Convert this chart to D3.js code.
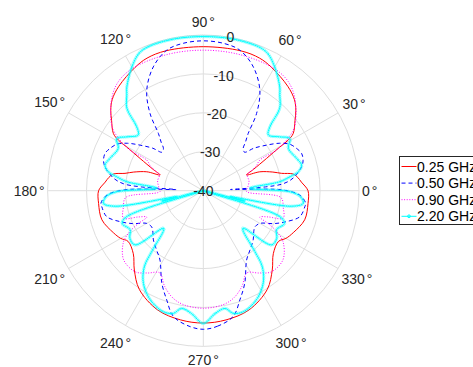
<!DOCTYPE html>
<html>
<head>
<meta charset="utf-8">
<script src="https://cdn.jsdelivr.net/npm/d3@7/dist/d3.min.js"></script>
<style>
  body { margin: 0; background: #fff; }
  svg { font-family: "Liberation Sans", Arial, Helvetica, sans-serif; }
</style>
</head>
<body>
<div id="chart"></div>
<script>
// Ticks
const angleTicks = [0, 30, 60, 90, 120, 150, 180, 210, 240, 270, 300, 330];
const rTicks = [-40, -30, -20, -10, 0];
const seriesNames = ["0.25 GHz", "0.50 GHz", "0.90 GHz", "2.20 GHz"];

// Patterns are symmetric about the 90°/270° axis, so the right half (-90..90 deg) is given
// and mirrored for the left half.
const redAngles = [-90, -80, -69, -57, -49, -42, -34, -30, -25, -16, -7, 0, 5, 8, 10.5, 12.5, 15, 18.5, 20, 23, 27, 29.7, 30.8, 32.5, 37.5, 41, 45, 51, 61, 67, 75, 90];
const redDb = [-6.0, -6.3, -7.2, -9.8, -13.0, -15.8, -16.7, -15.5, -14.5, -12.9, -12.9, -13.1, -14.7, -15.5, -16.5, -19.4, -21.5, -24.7, -28.2, -26, -21.8, -17.4, -14.6, -12.6, -10.3, -8.5, -6.9, -5.5, -3.8, -3.0, -2.8, -3.0];

const blueAngles = [-90, -84, -76.6, -71.5, -65.8, -58, -51.8, -44.6, -38, -34.9, -30, -25, -20.4, -15, -9, -7, -2.6, 0.5, 1.5, 2.5, 3.5, 5, 8, 13.7, 17, 20.8, 24, 28.3, 32, 35.8, 40, 43, 46.6, 49, 51.9, 55.4, 60.6, 68, 75.4, 82, 90];
const blueDb = [-4.4, -5.0, -6.8, -10.4, -14, -19, -20.6, -22, -23.5, -23.8, -23.2, -20, -17.2, -14.3, -13.6, -13.5, -15.2, -19.5, -24, -33, -24, -19.4, -16.7, -14.0, -13.2, -13.0, -13.6, -14.8, -17, -20, -23, -25.5, -25.1, -23.5, -21.3, -15.9, -10.4, -5.7, -2.7, -1.8, -1.5];

const magentaAngles = [-90, -80, -74, -68, -62, -56, -50, -41, -33, -29.6, -27, -25, -22, -19, -12, -5, -1, 5, 12, 20, 22, 25, 28.4, 29, 31.3, 35, 45, 52, 60, 75, 90];
const magentaDb = [-9.8, -10.3, -11.4, -13.5, -16.1, -14.5, -12.8, -12.9, -15.5, -17.9, -21, -24, -22, -18.3, -19, -20, -28.9, -28.5, -28, -28, -27, -25, -23.5, -18.5, -15, -11.4, -6.7, -4.5, -3.7, -3.8, -3.9];

const cyanAngles = [-90, -84.5, -79.5, -76.3, -71.7, -66, -61, -56, -52, -49.7, -43.5, -38.5, -33, -28, -22, -18.7, -15.8, -14.2, -12.7, -10, -7.2, -3.5, -0.7, 3, 6.7, 9.2, 11.3, 14.6, 19, 26.5, 31, 35.2, 40.6, 43.8, 47.2, 51.4, 53.6, 60, 65, 69, 79, 90];
const cyanDb = [-5.9, -8.3, -9.25, -7.55, -7.25, -8.3, -9.9, -12.3, -15.5, -19.5, -26, -17.6, -17.5, -18.7, -17.5, -19.2, -40, -29, -33, -17, -14.1, -15, -17.7, -28, -20.2, -17.4, -15.1, -13.9, -14.6, -15.6, -14.0, -16, -18, -16.3, -11.1, -8.5, -6.9, -3.3, -1.0, -0.4, -0.3, -0.4];

const colors = ["#ff0000", "#0000ff", "#ff00ff", "#00ffff"];
const dashes = [null, "4,3", "1,1.6", null];

const width = 473, height = 367;
const cx = 203.3, cy = 190.7, R = 155.7;
const textColor = "#262626", gridColor = "#dedede";

const svg = d3.select("#chart").append("svg")
    .attr("width", width)
    .attr("height", height);

const r = d3.scaleLinear().domain([-40, 0]).range([0, R]).clamp(true);
const g = svg.append("g").attr("transform", `translate(${cx},${cy})`);

//Grid circles and spokes
g.selectAll(".ring").data(rTicks.filter(t => t > -40)).enter()
    .append("circle")
    .attr("r", d => r(d))
    .attr("fill", "none")
    .attr("stroke", gridColor);
g.selectAll(".spoke").data(angleTicks).enter()
    .append("line")
    .attr("x2", d => R * Math.cos(d * Math.PI / 180))
    .attr("y2", d => -R * Math.sin(d * Math.PI / 180))
    .attr("stroke", gridColor);

//Build closed curves from the right half
function buildSeries(angles, db) {
    const right = angles.map((a, i) => ({ a, v: db[i] }));
    const left = right.slice(1, -1).reverse().map(d => ({ a: 180 - d.a, v: d.v }));
    return right.concat(left);
}
const series = [
    buildSeries(redAngles, redDb),
    buildSeries(blueAngles, blueDb),
    buildSeries(magentaAngles, magentaDb),
    buildSeries(cyanAngles, cyanDb)
];

const line = d3.lineRadial()
    .angle(d => Math.PI / 2 - d.a * Math.PI / 180)
    .radius(d => r(d.v))
    .curve(d3.curveCatmullRomClosed.alpha(0.5));

const curveG = g.append("g");
series.forEach((s, i) => {
    const p = curveG.append("path")
        .attr("d", line(s))
        .attr("fill", "none")
        .attr("stroke", colors[i])
        .attr("stroke-width", 1)
        .attr("stroke-dasharray", dashes[i]);
    if (i === 3) {
        //Dense small markers along the cyan trace
        const node = p.node();
        const len = node.getTotalLength();
        const pts = d3.range(0, len, 2.2).map(l => node.getPointAtLength(l));
        curveG.append("g").selectAll("circle").data(pts).enter()
            .append("circle")
            .attr("cx", d => d.x)
            .attr("cy", d => d.y)
            .attr("r", 1.3)
            .attr("fill", "none")
            .attr("stroke", colors[3])
            .attr("stroke-opacity", 0.5)
            .attr("stroke-width", 0.7);
    }
});

//Radial tick labels
g.selectAll(".rlabel").data(rTicks).enter()
    .append("text")
    .attr("x", d => r(d) * Math.cos(80 * Math.PI / 180))
    .attr("y", d => -r(d) * Math.sin(80 * Math.PI / 180))
    .attr("text-anchor", "middle")
    .attr("dominant-baseline", "central")
    .attr("font-size", 14)
    .attr("fill", textColor)
    .text(d => d);

//Angle labels
g.selectAll(".alabel").data(angleTicks).enter()
    .append("text")
    .attr("text-anchor", "middle")
    .attr("dominant-baseline", "central")
    .attr("font-size", 14)
    .attr("fill", textColor)
    .each(function (d) {
        const t = d3.select(this);
        t.append("tspan").text(d);
        t.append("tspan").attr("dx", 2).text("°");
        const bb = this.getBBox();
        const rad = d * Math.PI / 180;
        const off = R + 3 + (bb.width / 2) * Math.abs(Math.cos(rad)) + 10.5 * Math.abs(Math.sin(rad));
        t.attr("x", off * Math.cos(rad)).attr("y", -off * Math.sin(rad));
    });

//Legend (box runs past the right edge, as in the original figure)
const legend = svg.append("g").attr("transform", "translate(399.5,156.5)");
legend.append("rect")
    .attr("width", 100)
    .attr("height", 68)
    .attr("fill", "#fff")
    .attr("stroke", textColor);
const rows = legend.selectAll(".row").data(seriesNames).enter()
    .append("g")
    .attr("transform", (d, i) => `translate(0,${10 + i * 16.6})`);
rows.append("line")
    .attr("x1", 2).attr("x2", 17)
    .attr("stroke", (d, i) => colors[i])
    .attr("stroke-dasharray", (d, i) => dashes[i]);
rows.filter((d, i) => i === 3).append("circle")
    .attr("cx", 9.5).attr("r", 1.4)
    .attr("fill", "none")
    .attr("stroke", colors[3]);
rows.append("text")
    .attr("x", 17.5)
    .attr("dominant-baseline", "central")
    .attr("font-size", 14)
    .attr("fill", "#000")
    .text(d => d);
</script>
</body>
</html>
